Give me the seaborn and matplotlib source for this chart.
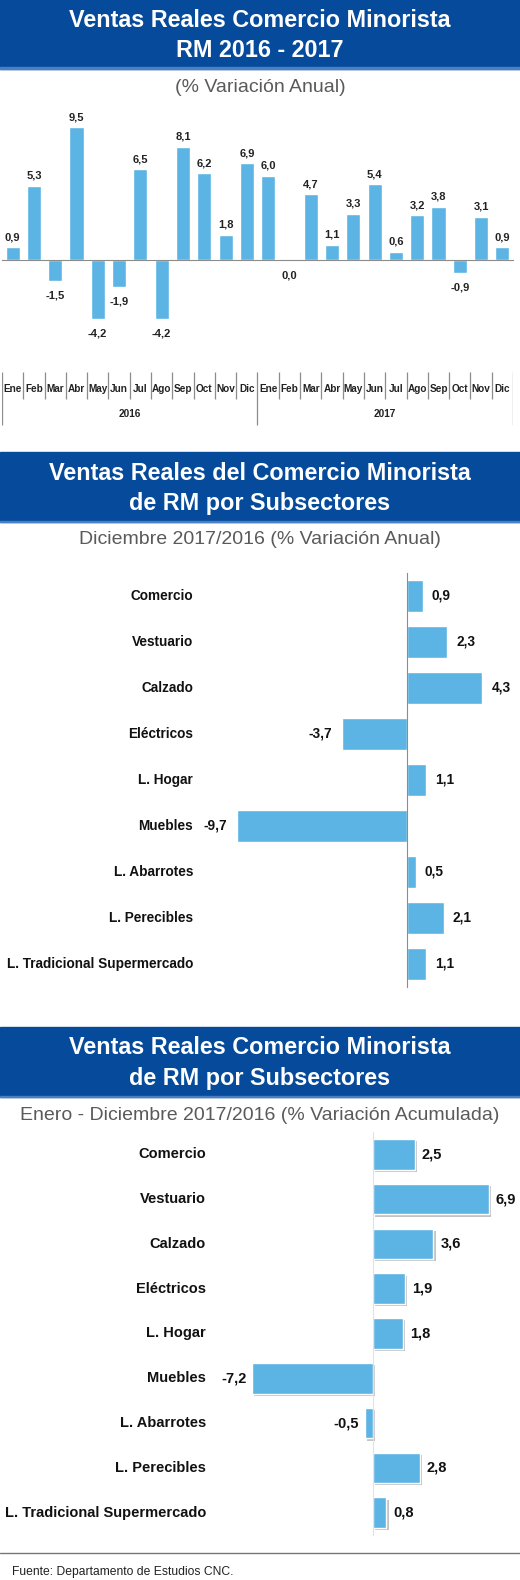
import numpy as np
import pandas as pd
import matplotlib
matplotlib.use("Agg")
import matplotlib.pyplot as plt
import matplotlib.patheffects as pe
from matplotlib.patches import Rectangle
from matplotlib.transforms import blended_transform_factory
import seaborn as sns

# ---- datos ----
meses = ["Ene", "Feb", "Mar", "Abr", "May", "Jun", "Jul", "Ago", "Sep", "Oct", "Nov", "Dic"]
anios = ["2016", "2017"]
var_2016 = [0.9, 5.3, -1.5, 9.5, -4.2, -1.9, 6.5, -4.2, 8.1, 6.2, 1.8, 6.9]
var_2017 = [6.0, 0.0, 4.7, 1.1, 3.3, 5.4, 0.6, 3.2, 3.8, -0.9, 3.1, 0.9]

subsectores = ["Comercio", "Vestuario", "Calzado", "Eléctricos", "L. Hogar", "Muebles",
               "L. Abarrotes", "L. Perecibles", "L. Tradicional Supermercado"]
dic_anual = [0.9, 2.3, 4.3, -3.7, 1.1, -9.7, 0.5, 2.1, 1.1]
ene_dic_acum = [2.5, 6.9, 3.6, 1.9, 1.8, -7.2, -0.5, 2.8, 0.8]

# ---- estilo ----
sns.set_style("white")
ARIAL = ["Liberation Sans", "DejaVu Sans"]
plt.rcParams["font.family"] = ARIAL

AZUL = "#054a9b"
CELESTE = "#5bb4e4"
GRIS = "#8c8c8c"

W, H = 520, 1580
fig = plt.figure(figsize=(W / 100, H / 100), dpi=100)


def fy(py):
    return 1 - py / H


def add_ax(left, top, width, height):
    return fig.add_axes([left / W, 1 - (top + height) / H, width / W, height / H])


def fmt(v):
    return f"{v:.1f}".replace(".", ",")


def banda(top, bottom, linea1, linea2, subtitulo, y_sub):
    fig.add_artist(Rectangle((0, fy(bottom)), 1, (bottom - top) / H,
                             transform=fig.transFigure, color=AZUL, zorder=0))
    fig.add_artist(Rectangle((0, fy(bottom)), 1, 1.5 / H,
                             transform=fig.transFigure, color="#4a7fc0", zorder=0))
    alto = bottom - top
    for txt, y in [(linea1, top + alto * 0.30), (linea2, top + alto * 0.73)]:
        fig.text(0.5, fy(y), txt, ha="center", va="center", color="white",
                 fontsize=16.8, fontweight="bold")
    fig.text(0.5, fy(y_sub), subtitulo, ha="center", va="center", color="#5a5a5a",
             fontsize=14)


# ================= seccion 1 =================
banda(0, 69, "Ventas Reales Comercio Minorista", "RM 2016 - 2017",
      "(% Variación Anual)", 87)

df1 = pd.DataFrame({
    "periodo": [f"{m} {a}" for a in anios for m in meses],
    "mes": meses * 2,
    "valor": var_2016 + var_2017,
})

cero_y, esc1 = 260, 14.0
ax1 = add_ax(2, 110, 511, 235)
sns.barplot(data=df1, x="periodo", y="valor", color=CELESTE, saturation=1,
            width=0.66, ax=ax1)
n = len(df1)
ax1.set_xlim(-0.5, n - 0.5)
ax1.set_ylim(-(345 - cero_y) / esc1, (cero_y - 110) / esc1)
for s in ["top", "right", "left"]:
    ax1.spines[s].set_visible(False)
ax1.spines["bottom"].set_position(("data", 0))
ax1.spines["bottom"].set_color(GRIS)
ax1.set_xticks(np.arange(-0.5, n, 1), labels=[])
ax1.tick_params(axis="x", length=4, direction="out", color=GRIS)
ax1.set_yticks([])
ax1.set_xlabel("")
ax1.set_ylabel("")
for i, v in enumerate(df1["valor"]):
    if v > 0:
        ax1.annotate(fmt(v), (i, v), xytext=(0, 3.6), textcoords="offset points",
                     ha="center", va="bottom", fontsize=8, fontweight="bold", color="#222")
    else:
        ax1.annotate(fmt(v), (i, v), xytext=(0, -7.2), textcoords="offset points",
                     ha="center", va="top", fontsize=8, fontweight="bold", color="#222")

# eje de categorias (meses / anios), en pixeles absolutos
ax1b = add_ax(2, 368, 511, 62)
ax1b.set_xlim(-0.5, n - 0.5)
ax1b.set_ylim(430, 368)
ax1b.axis("off")
for k in range(n + 1):
    x = k - 0.5
    fin = 425 if k % 12 == 0 else 399
    ax1b.plot([x, x], [372, fin], color=GRIS, lw=0.9, solid_capstyle="butt")
for i, m in enumerate(df1["mes"]):
    ax1b.text(i, 389, m, ha="center", va="center", fontsize=7.2, fontweight="bold", color="#222")
for j, a in enumerate(anios):
    ax1b.text(j * 12 + 5.5, 414, a, ha="center", va="center", fontsize=7.2,
              fontweight="bold", color="#222")


# ================= barras horizontales =================
def barras_h(valores, top, alto, cero_x, esc, sombra, eje_color, x_label, gap_pos, gap_neg, fs):
    df = pd.DataFrame({"subsector": subsectores, "valor": valores})
    ax = add_ax(0, top, W, alto)
    sns.barplot(data=df, x="valor", y="subsector", orient="h", color=CELESTE,
                saturation=1, width=0.68, ax=ax)
    k = len(df)
    ax.set_xlim(-cero_x / esc, (W - cero_x) / esc)
    ax.set_ylim(k - 0.5, -0.5)
    for s in ["top", "right", "bottom"]:
        ax.spines[s].set_visible(False)
    ax.spines["left"].set_position(("data", 0))
    ax.spines["left"].set_color(eje_color)
    ax.set_yticks(np.arange(-0.5, k, 1), labels=[])
    ax.tick_params(axis="y", length=4, direction="out", color=eje_color)
    ax.set_xticks([])
    ax.set_xlabel("")
    ax.set_ylabel("")
    if sombra:
        for p in ax.patches:
            p.set_path_effects([pe.SimplePatchShadow(offset=(1.6, -1.6), shadow_rgbFace="#888888",
                                                     alpha=0.5), pe.Normal()])
    tr = blended_transform_factory(fig.transFigure, ax.transData)
    for i, (nom, v) in enumerate(zip(df["subsector"], df["valor"])):
        ax.text(x_label / W, i, nom, transform=tr, ha="right", va="center",
                fontsize=fs, fontweight="bold", color="#111")
        if v >= 0:
            ax.annotate(fmt(v), (v, i), xytext=(gap_pos, 0), textcoords="offset points",
                        ha="left", va="center", fontsize=fs, fontweight="bold", color="#111")
        else:
            ax.annotate(fmt(v), (v, i), xytext=(-gap_neg, 0), textcoords="offset points",
                        ha="right", va="center", fontsize=fs, fontweight="bold", color="#111")
    return ax


# ================= seccion 2 =================
banda(452, 522, "Ventas Reales del Comercio Minorista", "de RM por Subsectores",
      "Diciembre 2017/2016 (% Variación Anual)", 540)
barras_h(dic_anual, 573, 414, 407, 17.5, False, GRIS, 193, 6.5, 7, 9.8)

# ================= seccion 3 =================
banda(1027, 1097, "Ventas Reales Comercio Minorista", "de RM por Subsectores",
      "Enero - Diciembre 2017/2016 (% Variación Acumulada)", 1115)
barras_h(ene_dic_acum, 1132, 403, 373, 16.8, True, "#e2e2e2", 206, 5, 4, 10.5)

# ---- pie ----
fig.add_artist(plt.Line2D([0, 1], [fy(1553), fy(1553)], transform=fig.transFigure,
                          color="#777777", lw=1))
fig.text(12 / W, fy(1572), "Fuente: Departamento de Estudios CNC.", ha="left", va="center",
         fontsize=8.7, color="#222")

fig.savefig("out.png", dpi=100)
